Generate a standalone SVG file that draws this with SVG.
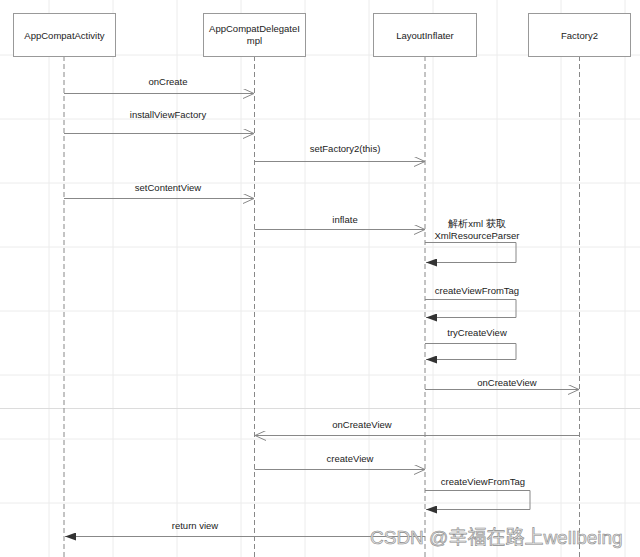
<svg xmlns="http://www.w3.org/2000/svg" width="640" height="557" viewBox="0 0 640 557">
<style>
.grid{stroke:#ececec;stroke-width:1;fill:none}
.box{fill:#fff;stroke:#999;stroke-width:1}
.life{stroke:#888;stroke-width:1;stroke-dasharray:5,3;fill:none}
.msg{stroke:#888;stroke-width:1;fill:none}
.t{font-family:"Liberation Sans",Arial,sans-serif;font-size:9.5px;fill:#222;text-anchor:middle}
.wm{font-family:"Liberation Sans","Noto Sans CJK SC",sans-serif;font-size:19px;fill:#e6e6e6;stroke:#8a8a8a;stroke-width:0.6;text-anchor:start}
</style>
<defs>
<marker id="open" markerWidth="12" markerHeight="10" refX="11" refY="5" orient="auto" markerUnits="userSpaceOnUse">
<path d="M0,0 L11,5 L0,10" fill="none" stroke="#888" stroke-width="1"/>
</marker>
<marker id="fill" markerWidth="12" markerHeight="8" refX="11" refY="4" orient="auto" markerUnits="userSpaceOnUse">
<path d="M0,0 L11,4 L0,8 Z" fill="#333"/>
</marker>
</defs>
<rect width="640" height="557" fill="#fff"/>
<g id="grid">
<path class="grid" d="M49,0V557M113,0V557M177,0V557M241,0V557M305,0V557M369,0V557M433,0V557M497,0V557M561,0V557M625,0V557M0,55H640M0,119H640M0,183H640M0,247H640M0,311H640M0,375H640M0,439H640M0,503H640"/>
<path d="M0,408.5H640" stroke="#dcdcdc" stroke-width="1"/>
</g>
<g id="lifelines">
<path class="life" d="M64,56V557"/>
<path class="life" d="M254.5,56V557"/>
<path class="life" d="M425,56V557"/>
<path class="life" d="M579.5,56V557"/>
</g>
<g id="node-appcompatactivity">
<rect class="box" x="13.5" y="13.5" width="102" height="43"/>
<text class="t" x="64.5" y="38.5">AppCompatActivity</text>
</g>
<g id="node-appcompatdelegateimpl">
<rect class="box" x="203.5" y="13.5" width="102" height="43"/>
<text class="t" x="254.5" y="32">AppCompatDelegateI</text>
<text class="t" x="254.5" y="44">mpl</text>
</g>
<g id="node-layoutinflater">
<rect class="box" x="373.5" y="13.5" width="103" height="43"/>
<text class="t" x="425" y="38.5">LayoutInflater</text>
</g>
<g id="node-factory2">
<rect class="box" x="528.5" y="13.5" width="102" height="43"/>
<text class="t" x="579.5" y="38.5">Factory2</text>
</g>
<g id="connectors">
<path class="msg" d="M64,93.5H254" marker-end="url(#open)"/>
<text class="t" x="168" y="85">onCreate</text>
<path class="msg" d="M64,133.5H254" marker-end="url(#open)"/>
<text class="t" x="168" y="118">installViewFactory</text>
<path class="msg" d="M254.5,161.5H425" marker-end="url(#open)"/>
<text class="t" x="345" y="152">setFactory2(this)</text>
<path class="msg" d="M64,198.5H254" marker-end="url(#open)"/>
<text class="t" x="168" y="191">setContentView</text>
<path class="msg" d="M254.5,229.5H425" marker-end="url(#open)"/>
<text class="t" x="345" y="223">inflate</text>
<text class="t" x="477" y="227">解析xml 获取</text>
<text class="t" x="477" y="239">XmlResourceParser</text>
<path class="msg" d="M425,242.5H516V262.5H426" marker-end="url(#fill)"/>
<text class="t" x="477" y="294">createViewFromTag</text>
<path class="msg" d="M425,299.5H516V317.5H426" marker-end="url(#fill)"/>
<text class="t" x="477" y="336">tryCreateView</text>
<path class="msg" d="M425,343.5H516V359.5H426" marker-end="url(#fill)"/>
<path class="msg" d="M425,389.5H579" marker-end="url(#open)"/>
<text class="t" x="507" y="386">onCreateView</text>
<path class="msg" d="M579.5,435.5H255" marker-end="url(#open)"/>
<text class="t" x="362" y="428">onCreateView</text>
<path class="msg" d="M254.5,469.5H425" marker-end="url(#open)"/>
<text class="t" x="350" y="462">createView</text>
<text class="t" x="483" y="485">createViewFromTag</text>
<path class="msg" d="M425,490.5H530V509.5H426" marker-end="url(#fill)"/>
<path class="msg" d="M425,536.5H65" marker-end="url(#fill)"/>
<text class="t" x="195" y="529">return view</text>
</g>
<text class="wm" x="370" y="544">CSDN @幸福在路上wellbeing</text>
</svg>
